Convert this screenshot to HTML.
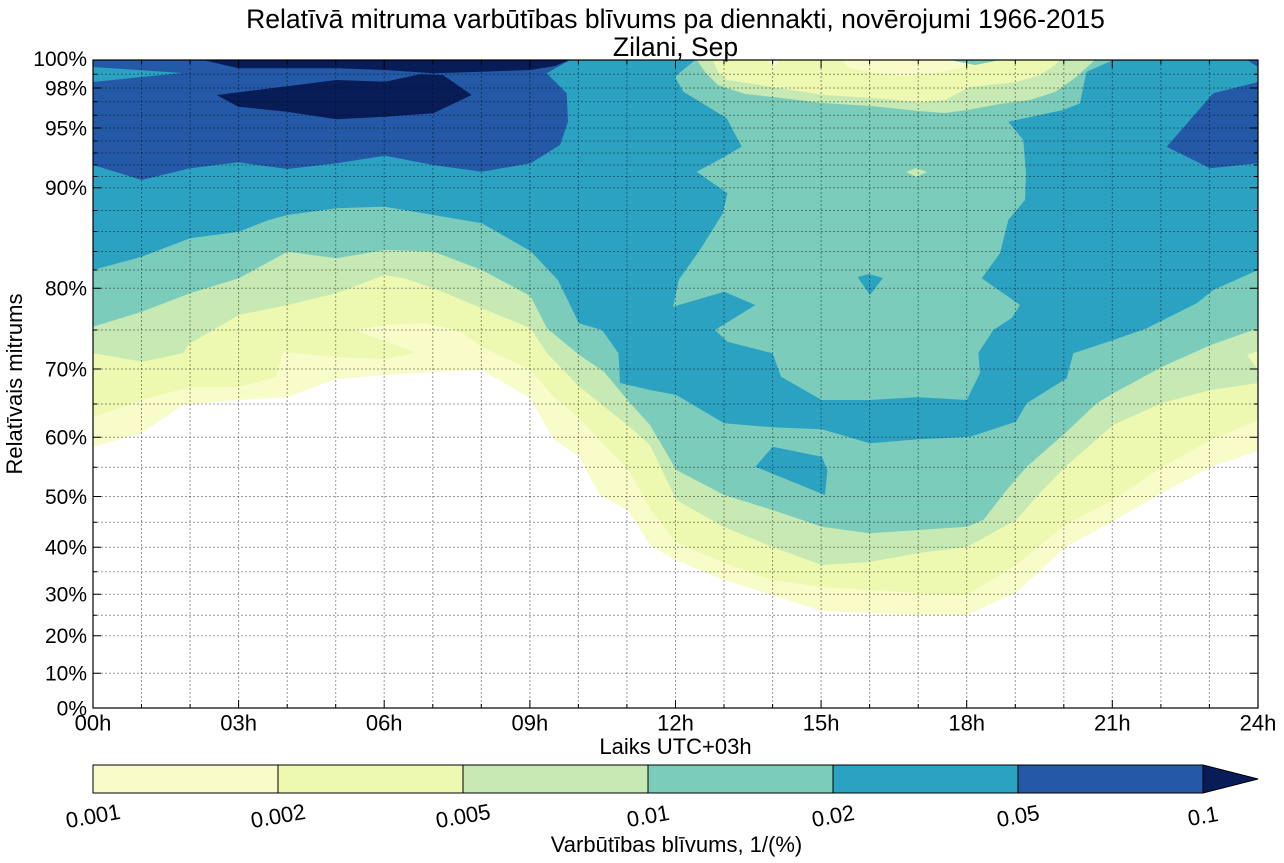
<!DOCTYPE html>
<html><head><meta charset="utf-8"><style>
html,body{margin:0;padding:0;background:#fff;}
svg{display:block;font-family:"Liberation Sans",Arial,sans-serif;}
</style></head><body>
<svg width="1284" height="863" viewBox="0 0 1284 863" xmlns="http://www.w3.org/2000/svg">
<defs><clipPath id="pc"><rect x="93" y="60" width="1165" height="648"/></clipPath></defs>
<rect width="1284" height="863" fill="#fff"/>
<g clip-path="url(#pc)" stroke="none">
<polygon fill="#f7fcc9" points="93,60 93,447 141.5,433 183,405 238.6,400 287.2,397 336.4,379 384.2,375 432.8,372 481.8,370 530.4,398 554,440 579,456 599.7,495 627.6,510 650.8,546 676,560 724,580 772.6,595 821.8,611 869.7,613 918.5,615 966.8,615 1015.6,593 1041,570 1064,548 1113,521 1162,493 1210.7,467 1258,451 1258,60"/>
<polygon fill="#edf8b1" points="93,60 93,417 141.8,400 190,387 238.9,387 275.7,377 282.9,352 336.4,357 384.6,359 415.7,352.7 354.3,330 384.6,325 425.7,323 461.4,332 481.8,347 530.4,370 554,397 579,418 604,445 627.5,468 650.8,510 676,542 724,563 772.6,580 821.8,587 869.7,590 918.5,593 966.8,595 1016,565 1065,525 1113,500 1162,467 1210.7,440 1258,420 1258,60"/>
<polygon fill="#c7e9b4" points="93,60 93,353 141.8,361.7 182.9,353.3 190,343.3 238.9,315 287.5,305 336.4,293.3 384.6,275 404,278.3 433.6,288.3 481.8,308.3 530.4,328 547,353.3 579.3,386.7 627.5,425 650,445 676.4,500 724,527 772.6,547 821.8,565 869.7,562 918.5,553 966.8,547 1016,520 1040,493 1065,467 1113,425 1162,403 1210.7,390 1258,383 1258,60"/>
<polygon fill="#edf8b1" points="1247,355 1258,351 1258,370"/>
<polygon fill="#7bccba" points="93,60 93,326.7 141.8,311.7 190,293.3 238.9,278.3 287.5,251.7 336.4,258.3 384.6,250 415.7,251 433.6,251.7 481.8,270 530.4,296 547,328.3 579.3,355 604,371.7 627.5,400 650,425 676.4,470 724.2,495 772.6,510 821.8,526.7 869.7,533.3 918.5,530 966.8,526.7 983.3,520 1006.7,490 1026.7,466.7 1065,433.3 1096.7,403.3 1113.3,393.3 1162.3,366.7 1210.7,345 1258,328.3 1258,60"/>
<polygon fill="#2ca2c2" points="93,60 93,270 141.8,256.7 190,238.3 238.9,231.7 268.6,220 287.5,215 336.4,208.3 384.6,206.7 433.6,215 481.8,223.3 530.4,251 557.9,280 579,323.3 602,330 618.5,353.3 620,383 650,390 676.4,395 724.2,423.3 772.6,427.3 821.8,429.3 869.7,443.3 918.5,439.3 940,438.3 970,436.7 1016,421.7 1026.7,403.3 1066.7,378.3 1073.3,353.3 1113.3,340 1146.7,328.3 1196.7,303.3 1213.3,290 1258,270 1258,60"/>
<polygon fill="#7bccba" points="695,60 675,76.7 683.3,91.7 700,101.7 726.7,118.3 741.7,146.7 721.7,158.3 696.7,171.7 727.5,193.3 722.8,213.3 702,246.7 678.7,280 673.1,306.7 724.2,291.7 755.4,305 715,330 727.5,341.7 772.6,353.3 781,376.7 821.8,400 869.7,400 918.5,397.3 966.7,400 980,373 978.3,353 993.3,330 1011.7,318 1020,305 981.7,278.3 1000,253.3 1008.3,220 1025,200 1026,173.3 1023.3,140 1008.3,121.7 1063.3,110 1080,103.3 1083.3,86.7 1086.7,71.7 1113.3,60"/>
<polygon fill="#2ca2c2" points="857.6,277 869,274 883,278 870,295"/>
<polygon fill="#2ca2c2" points="755.4,466.7 772.6,446.7 821.8,456.7 827.4,470 825,495"/>
<polygon fill="#c7e9b4" points="697,60 705,72 718,85 745,94 773,97 823,103 871,106 919,111 945,113 967,110 1000,104 1030,100 1055,92 1075,78 1095,60"/>
<polygon fill="#edf8b1" points="713,60 718,72 727,80 773,87 823,95 873,98 920,102 945,100 970,87 1017,82 1040,75 1055,65 1060,60"/>
<polygon fill="#f7fcc9" points="842,60 848,68 875,73 905,76 935,73 962,68 968,60"/>
<polygon fill="#f7fcc9" points="768,60 780,60 774,68"/>
<polygon fill="#7bccba" points="950,60 1000,60 975,65"/>
<polygon fill="#c7e9b4" points="906,172 916,168 927,172 916,177"/>
<polygon fill="#2359a6" points="93,60 570,60 546.7,73.3 566.7,93.3 568,121.7 560,145 530.7,163.3 481.7,171.7 433.3,165 385,155.7 336.7,163.3 287.3,169 238.3,162.3 190,168.3 141.7,180 93,165"/>
<polygon fill="#2ca2c2" points="93,67 182,73 93,82"/>
<polygon fill="#2359a6" points="1258,82 1213.3,93.3 1166.7,146.7 1210,168.3 1258,163.3"/>
<polygon fill="#2359a6" points="1247,60 1258,60 1258,67"/>
<polygon fill="#081d58" points="203,60 570,60 555,66 530.7,70 481.7,71.7 433.3,73.3 385,70 336.7,68.3 238.3,68.3"/>
<polygon fill="#081d58" points="216.7,95 336.7,80 385,81.7 420,74.3 443,75 471.7,95 433.3,113.3 385,116.7 336.7,119.3 286.7,111.7 238.3,106.7"/>
</g>
<g stroke="#000" stroke-opacity="0.4" stroke-width="1" stroke-dasharray="2,2" fill="none">
<path d="M141.5,60V708M190.1,60V708M238.6,60V708M287.2,60V708M335.7,60V708M384.2,60V708M432.8,60V708M481.3,60V708M529.9,60V708M578.4,60V708M626.9,60V708M675.5,60V708M724,60V708M772.6,60V708M821.1,60V708M869.6,60V708M918.2,60V708M966.7,60V708M1015.3,60V708M1063.8,60V708M1112.3,60V708M1160.9,60V708M1209.4,60V708"/>
<path d="M93,74.3H1258M93,88H1258M93,101.7H1258M93,115.3H1258M93,128H1258M93,141H1258M93,153H1258M93,165H1258M93,176.5H1258M93,187.7H1258M93,210.5H1258M93,231.5H1258M93,251.5H1258M93,270H1258M93,288.3H1258M93,330H1258M93,369H1258M93,404H1258M93,437.3H1258M93,467.3H1258M93,496.5H1258M93,522.3H1258M93,547.3H1258M93,571.7H1258M93,594.3H1258M93,615.3H1258M93,635.7H1258M93,673.3H1258"/>
</g>
<g stroke="#000" stroke-width="1" fill="none">
<path d="M93,88h8M93,128h8M93,187.7h8M93,288.3h8M93,369h8M93,437.3h8M93,496.5h8M93,547.3h8M93,594.3h8M93,635.7h8M93,673.3h8M1258,88h-8M1258,128h-8M1258,187.7h-8M1258,288.3h-8M1258,369h-8M1258,437.3h-8M1258,496.5h-8M1258,547.3h-8M1258,594.3h-8M1258,635.7h-8M1258,673.3h-8"/>
<path d="M93,74.3h4M93,101.7h4M93,115.3h4M93,141h4M93,153h4M93,165h4M93,176.5h4M93,210.5h4M93,231.5h4M93,251.5h4M93,270h4M93,330h4M93,404h4M93,467.3h4M93,522.3h4M93,571.7h4M93,615.3h4M1258,74.3h-4M1258,101.7h-4M1258,115.3h-4M1258,141h-4M1258,153h-4M1258,165h-4M1258,176.5h-4M1258,210.5h-4M1258,231.5h-4M1258,251.5h-4M1258,270h-4M1258,330h-4M1258,404h-4M1258,467.3h-4M1258,522.3h-4M1258,571.7h-4M1258,615.3h-4"/>
<path d="M238.6,708v-8M384.2,708v-8M529.9,708v-8M675.5,708v-8M821.1,708v-8M966.7,708v-8M1112.3,708v-8M238.6,60v8M384.2,60v8M529.9,60v8M675.5,60v8M821.1,60v8M966.7,60v8M1112.3,60v8"/>
<path d="M141.5,708v-4M190.1,708v-4M287.2,708v-4M335.7,708v-4M432.8,708v-4M481.3,708v-4M578.4,708v-4M626.9,708v-4M724,708v-4M772.6,708v-4M869.6,708v-4M918.2,708v-4M1015.3,708v-4M1063.8,708v-4M1160.9,708v-4M1209.4,708v-4M141.5,60v4M190.1,60v4M287.2,60v4M335.7,60v4M432.8,60v4M481.3,60v4M578.4,60v4M626.9,60v4M724,60v4M772.6,60v4M869.6,60v4M918.2,60v4M1015.3,60v4M1063.8,60v4M1160.9,60v4M1209.4,60v4"/>
</g>
<rect x="93" y="60" width="1165" height="648" fill="none" stroke="#000" stroke-width="1.2"/>
<text x="675.5" y="28" font-size="26.5" text-anchor="middle" fill="#000">Relatīvā mitruma varbūtības blīvums pa diennakti, novērojumi 1966-2015</text>
<text x="675.5" y="56" font-size="26.5" text-anchor="middle" fill="#000">Zilani, Sep</text>
<g font-size="21" text-anchor="end" fill="#000">
<text x="87" y="66">100%</text>
<text x="87" y="95.5">98%</text>
<text x="87" y="135.5">95%</text>
<text x="87" y="195">90%</text>
<text x="87" y="295.5">80%</text>
<text x="87" y="376.5">70%</text>
<text x="87" y="444.5">60%</text>
<text x="87" y="504">50%</text>
<text x="87" y="554.5">40%</text>
<text x="87" y="601.5">30%</text>
<text x="87" y="643">20%</text>
<text x="87" y="680.5">10%</text>
<text x="87" y="715.5">0%</text>
</g>
<g font-size="22" text-anchor="middle" fill="#000">
<text x="93" y="730.5">00h</text>
<text x="238.6" y="730.5">03h</text>
<text x="384.2" y="730.5">06h</text>
<text x="529.9" y="730.5">09h</text>
<text x="675.5" y="730.5">12h</text>
<text x="821.1" y="730.5">15h</text>
<text x="966.7" y="730.5">18h</text>
<text x="1112.3" y="730.5">21h</text>
<text x="1258" y="730.5">24h</text>
</g>
<text x="675.5" y="754" font-size="22" text-anchor="middle" fill="#000">Laiks UTC+03h</text>
<text transform="translate(22,384) rotate(-90)" font-size="22" text-anchor="middle" fill="#000">Relatīvais mitrums</text>
<rect x="93" y="765" width="185" height="28" fill="#f7fcc9"/>
<rect x="278" y="765" width="185" height="28" fill="#edf8b1"/>
<rect x="463" y="765" width="185" height="28" fill="#c7e9b4"/>
<rect x="648" y="765" width="185" height="28" fill="#7bccba"/>
<rect x="833" y="765" width="185" height="28" fill="#2ca2c2"/>
<rect x="1018" y="765" width="185" height="28" fill="#2359a6"/>
<polygon points="1203,765 1258,779 1203,793" fill="#081d58"/>
<g stroke="#000" stroke-width="1" fill="none">
<path d="M278,765v28M463,765v28M648,765v28M833,765v28M1018,765v28M1203,765v28"/>
<path d="M93,765H1203L1258,779L1203,793H93Z"/>
</g>
<g font-size="22" text-anchor="middle" fill="#000">
<text transform="translate(93,816) rotate(-10)" y="7.5">0.001</text>
<text transform="translate(278,816) rotate(-10)" y="7.5">0.002</text>
<text transform="translate(463,816) rotate(-10)" y="7.5">0.005</text>
<text transform="translate(648,816) rotate(-10)" y="7.5">0.01</text>
<text transform="translate(833,816) rotate(-10)" y="7.5">0.02</text>
<text transform="translate(1018,816) rotate(-10)" y="7.5">0.05</text>
<text transform="translate(1203,816) rotate(-10)" y="7.5">0.1</text>
</g>
<text x="676.5" y="852" font-size="22" text-anchor="middle" fill="#000">Varbūtības blīvums, 1/(%)</text>
</svg>
</body></html>
